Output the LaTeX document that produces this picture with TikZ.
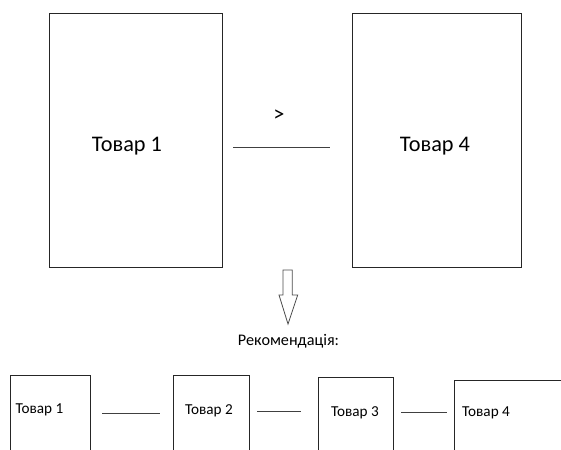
\documentclass[tikz,border=0pt]{standalone}
\usepackage{fontspec}
\setmainfont{Carlito}
\usetikzlibrary{positioning}

\begin{document}
\begin{tikzpicture}[x=1pt,y=-1pt,
    box/.style={draw=black!85,line width=0.9pt,inner sep=0pt},
    link/.style={draw=black!75,line width=0.9pt},
    bigtxt/.style={font=\fontsize{22.3}{25}\selectfont},
    smalltxt/.style={font=\fontsize{15.2}{18}\selectfont}]
    \useasboundingbox (0,0) rectangle (561,449);
    \clip (0,0) rectangle (561,449);
    % top pair
    \node[box,minimum width=173,minimum height=254] (big1) at (135.5,140) {};
    \node[box,minimum width=169,minimum height=254] (big4) at (436.5,140) {};
    \node[bigtxt] (tb1) at (127,146) {Товар 1};
    \node[bigtxt] (tb4) at (435,146) {Товар 4};
    \coordinate (ga) at (233,147);
    \coordinate (gb) at (330,147);
    \draw[link] (ga) -- (gb);
    \node[bigtxt] (gt) at (279,116) {>};
    % down arrow
    \draw[draw=black!70,line width=0.8pt,fill=white]
        (283,270) -- (292.3,270) -- (292.3,295) -- (297.7,295) -- (288,324)
        -- (279,295) -- (283,295) -- cycle;
    \node[smalltxt,font=\fontsize{16.2}{19}\selectfont] (rec) at (288.5,341) {Рекомендація:};
    % bottom row
    \node[box,minimum width=79.6,minimum height=100] (p1) at (50.5,425) {};
    \node[box,minimum width=76,minimum height=100] (p2) at (211,425) {};
    \node[box,minimum width=75,minimum height=100] (p3) at (355.5,427) {};
    \node[box,minimum width=150,minimum height=100] (p4) at (529,430) {};
    \node[smalltxt] (tp1) at (39.5,410) {Товар 1};
    \node[smalltxt] (tp2) at (209,411) {Товар 2};
    \node[smalltxt] (tp3) at (355,413) {Товар 3};
    \node[smalltxt] (tp4) at (486,413) {Товар 4};
    \coordinate (l1a) at (102,413.7);
    \coordinate (l1b) at (160,413.7);
    \coordinate (l2a) at (257,411);
    \coordinate (l2b) at (301,411);
    \coordinate (l3a) at (401,412);
    \coordinate (l3b) at (447,412);
    \draw[link] (l1a) -- (l1b);
    \draw[link] (l2a) -- (l2b);
    \draw[link] (l3a) -- (l3b);
\end{tikzpicture}
\end{document}
